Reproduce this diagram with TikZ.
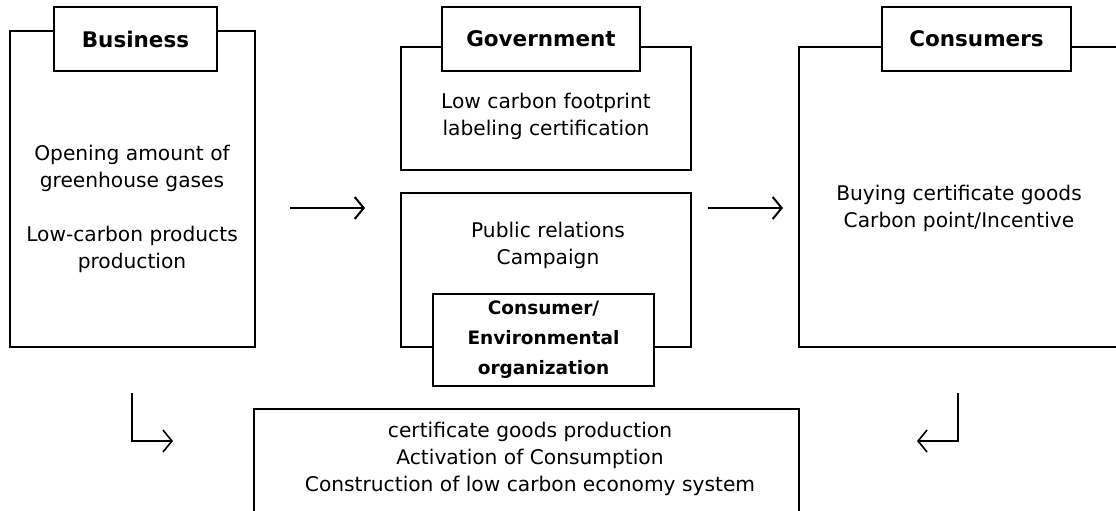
\documentclass[tikz,border=0pt]{standalone}
\usepackage{fontspec}
\setmainfont{DejaVu Sans}
\usepackage{tikz}
\usetikzlibrary{arrows.meta}
\usetikzlibrary{positioning}
\tikzstyle{cadre}=[
        rectangle,
        draw,
        line width=1.3pt,
        inner sep=0pt
]
\tikzstyle{titre}=[
        rectangle,
        draw,
        line width=1.3pt,
        fill=white,
        inner sep=0pt,
        font=\fontsize{21.5}{25}\selectfont\bfseries
]
\tikzstyle{texte}=[align=center,inner sep=0pt,font=\fontsize{20.2}{27}\selectfont]
\tikzstyle{organ}=[rectangle,draw,line width=1.3pt,fill=white,inner sep=0pt,
align=center,font=\fontsize{18.5}{30}\selectfont\bfseries]
\tikzstyle{suite}=[-{Straight Barb[length=9pt,width=22pt]},line width=2pt]
\tikzstyle{retour}=[-{Straight Barb[length=9pt,width=22pt]},line width=1.6pt]

\begin{document}
\begin{tikzpicture}[x=1pt,y=-1pt]
\useasboundingbox (0,0) rectangle (1116,511);
\clip (0,0) rectangle (1116,511);
\node[cadre,minimum width=245pt,minimum height=316pt] (busi) at (132.5,189) {};
\node[cadre,minimum width=290pt,minimum height=123pt] (gouv) at (546,108.5) {};
\node[cadre,minimum width=290pt,minimum height=154pt] (pub) at (546,270) {};
\node[cadre,minimum width=341pt,minimum height=300pt] (cons) at (969.5,197) {};
\node[cadre,minimum width=545pt,minimum height=121pt] (bilan) at (526.5,469.5) {};
\node[titre,minimum width=163pt,minimum height=64pt] (tbusi) at (135.5,39) {Business};
\node[titre,minimum width=198pt,minimum height=64pt] (tgouv) at (541,39) {Government};
\node[titre,minimum width=189pt,minimum height=64pt] (tcons) at (976.5,39) {Consumers};
\node[organ,minimum width=221pt,minimum height=92pt] (org) at (543.5,340) {Consumer/\\Environmental\\organization};
\node[texte] (xbusi) at (132,209) {Opening amount of\\greenhouse gases\\[27pt]Low-carbon products\\production};
\node[texte] (xgouv) at (546,116.5) {Low carbon footprint\\labeling certification};
\node[texte] (xpub) at (548,245.5) {Public relations\\Campaign};
\node[texte] (xcons) at (959,208) {Buying certificate goods\\Carbon point/Incentive};
\node[texte] (xbilan) at (530,459) {certificate goods production\\Activation of Consumption\\Construction of low carbon economy system};
%Placementdesflèches
\coordinate (f1a) at (290,208);
\coordinate (f1b) at (365,208);
\coordinate (f2a) at (708,208);
\coordinate (f2b) at (783,208);
\coordinate (f3a) at (132,393);
\coordinate (f3b) at (173,441);
\coordinate (f4a) at (958,393);
\coordinate (f4b) at (917,441);
\draw[suite] (f1a) -- (f1b);
\draw[suite] (f2a) -- (f2b);
\draw[retour] (f3a) |- (f3b);
\draw[retour] (f4a) |- (f4b);
\end{tikzpicture}
\end{document}
